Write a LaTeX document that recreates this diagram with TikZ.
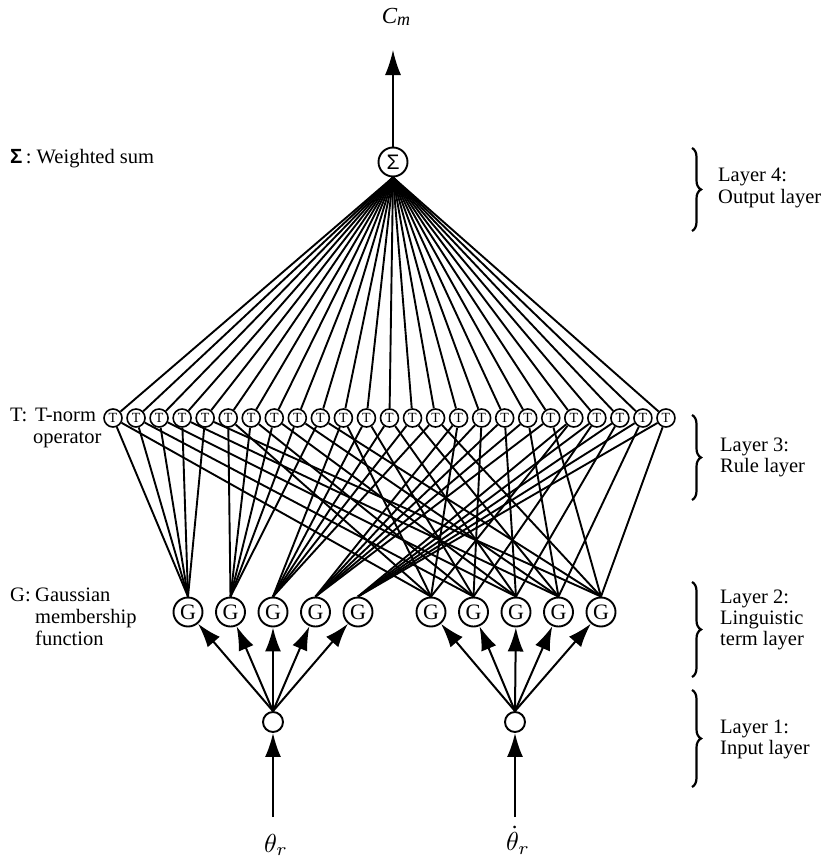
\documentclass[tikz,border=0pt]{standalone}
\usepackage{fontspec}
\setmainfont{Liberation Serif}
\newfontfamily\sansf{Liberation Sans}
\usetikzlibrary{arrows.meta,decorations.pathreplacing}
\begin{document}
\begin{tikzpicture}[x=1pt,y=-1pt,
  tnode/.style={circle, draw, line width=1.6pt, minimum size=18pt, inner sep=0pt, font=\fontsize{14}{14}\selectfont},
  gnode/.style={circle, draw, line width=1.9pt, minimum size=29pt, inner sep=0pt, font=\fontsize{22}{22}\selectfont},
  innode/.style={circle, draw, line width=1.9pt, minimum size=20pt, inner sep=0pt},
  sumnode/.style={circle, draw, line width=1.9pt, minimum size=29pt, inner sep=0pt, font=\sansf\fontsize{21}{21}\selectfont},
  conn/.style={line width=1.9pt},
  arr/.style={line width=2pt, -{Latex[length=24pt,width=16pt]}},
  lbl/.style={anchor=base west, inner sep=0pt, font=\fontsize{20.5}{22}\selectfont},
  bracestyle/.style={decorate, decoration={brace, amplitude=9pt}, line width=2.2pt}]
\useasboundingbox (0,0) rectangle (826,862);

% layer 4
\node[sumnode] (sum) at (393,162) {Σ};
\coordinate (out) at (393,50);
\node[inner sep=0pt] (cm) at (396,17) {\fontsize{23}{23}\selectfont\itshape C\raisebox{-2pt}{\fontsize{18}{18}\selectfont m}};
\draw[line width=1.4pt, -{Latex[length=25pt,width=16pt]}] (sum) -- (out);

% layer 3
\foreach \k in {1,...,25} {
  \pgfmathsetmacro\xx{113+23.04*(\k-1)}
  \node[tnode] (T\k) at (\xx,418) {T};
}

% layer 2
\foreach \i/\xx in {1/188,2/230.5,3/273,4/315.5,5/358}
  \node[gnode] (GL\i) at (\xx,612) {G};
\foreach \j/\xx in {1/431,2/473.5,3/516,4/558.5,5/601}
  \node[gnode] (GR\j) at (\xx,612) {G};

% layer 1
\node[innode] (in1) at (273,722) {};
\node[innode] (in2) at (515,722) {};
\coordinate (s1) at (273,817);
\coordinate (s2) at (515,817);
\node[inner sep=0pt] (th1) at (276,845) {\scalebox{2.6}{$\theta_r$}};
\node[inner sep=0pt] (th2) at (518,840) {\scalebox{2.6}{$\dot{\theta}_r$}};

% connections
\foreach \i in {1,...,5} {
  \foreach \j in {1,...,5} {
    \pgfmathtruncatemacro\k{5*(\i-1)+\j}
    \draw[conn] (T\k) -- (GL\i.north);
    \draw[conn] (T\k) -- (GR\j.north);
    \draw[conn] (T\k) -- (sum.south);
  }
}
\foreach \i in {1,...,5} {
  \draw[arr] (in1.north) -- (GL\i);
  \draw[arr] (in2.north) -- (GR\i);
}
\draw[arr] (s1) -- (in1);
\draw[arr] (s2) -- (in2);

% left labels
\node[lbl] (lsum) at (10,163) {{\sansf\bfseries Σ}\,: Weighted sum};
\node[lbl] (lt1) at (10,421) {T:};
\node[lbl] (lt2) at (35,421) {T-norm};
\node[lbl] (lt3) at (33,443) {operator};
\node[lbl] (lg1) at (10,601) {G:};
\node[lbl] (lg2) at (35,601) {Gaussian};
\node[lbl] (lg3) at (35,623) {membership};
\node[lbl] (lg4) at (35,645) {function};

% right labels
\draw[bracestyle] (692,148) -- (692,231);
\node[lbl] (l4a) at (718,181) {Layer 4:};
\node[lbl] (l4b) at (718,203) {Output layer};
\draw[bracestyle] (692,415) -- (692,500);
\node[lbl] (l3a) at (720,451) {Layer 3:};
\node[lbl] (l3b) at (720,472) {Rule layer};
\draw[bracestyle] (692,582) -- (692,677);
\node[lbl] (l2a) at (720,603) {Layer 2:};
\node[lbl] (l2b) at (720,624) {Linguistic};
\node[lbl] (l2c) at (720,645) {term layer};
\draw[bracestyle] (692,690) -- (692,787);
\node[lbl] (l1a) at (720,733) {Layer 1:};
\node[lbl] (l1b) at (720,754) {Input layer};
\end{tikzpicture}
\end{document}
